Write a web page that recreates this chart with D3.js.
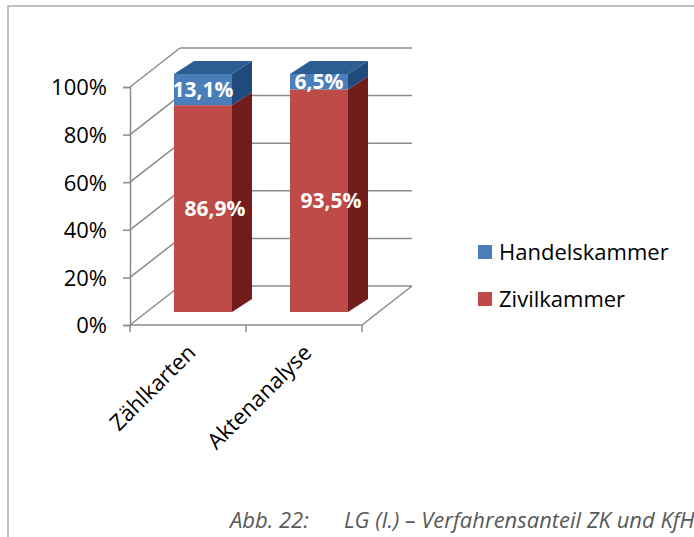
<!DOCTYPE html>
<html>
<head>
<meta charset="utf-8">
<script src="https://cdn.jsdelivr.net/npm/d3@7"></script>
<style>
  body { margin: 0; background: #fff; }
  text { font-family: "Open Sans", "Liberation Sans", sans-serif; }
</style>
</head>
<body>
<div id="chart"></div>
<script>
// data
const categories = ["Zählkarten", "Aktenanalyse"];
const series = ["Zivilkammer", "Handelskammer"];
const zivilkammer = [0.869, 0.935];
const handelskammer = [0.131, 0.065];
const labelsZivil = ["86,9%", "93,5%"];
const labelsHandel = ["13,1%", "6,5%"];
const yTicks = [0, 0.2, 0.4, 0.6, 0.8, 1];

const width = 694, height = 537;

// 3d look: depth of the walls and of the bars
const wallDx = 50, wallDy = -39;
const barOffDx = 15, barOffDy = -13;
const barDx = 20, barDy = -13;

const colors = {
  Zivilkammer: { front: "#BE4B48", side: "#731C1C", top: "#9A3431" },
  Handelskammer: { front: "#4A7EBB", side: "#1F4A7B", top: "#2C5D93" }
};
const gridColor = "#8C8C8C";

const svg = d3.select("#chart").append("svg")
  .attr("width", width)
  .attr("height", height);

svg.append("rect").attr("width", width).attr("height", height).attr("fill", "#fff");

// frame of the figure
svg.append("path")
  .attr("d", "M8," + height + " L8,6 L" + width + ",6")
  .attr("fill", "none")
  .attr("stroke", "#BFBFBF")
  .attr("stroke-width", 2);

const x = d3.scaleBand()
  .domain(categories)
  .range([130, 362])
  .paddingInner(0.5)
  .paddingOuter(0.25);

const xCell = d3.scaleBand().domain(categories).range([130, 362]);

const y = d3.scaleLinear().domain([0, 1]).range([325, 87]);

// walls and floor
const grid = svg.append("g").attr("class", "grid")
  .attr("fill", "none")
  .attr("stroke", gridColor)
  .attr("stroke-width", 1.5);

// side wall obliques
grid.selectAll(".side")
  .data(yTicks)
  .enter().append("line")
  .attr("x1", 130).attr("y1", d => y(d))
  .attr("x2", 130 + wallDx).attr("y2", d => y(d) + wallDy);

// back wall gridlines
grid.selectAll(".back")
  .data(yTicks)
  .enter().append("line")
  .attr("x1", 130 + wallDx).attr("y1", d => y(d) + wallDy)
  .attr("x2", 362 + wallDx).attr("y2", d => y(d) + wallDy);

// floor
grid.append("path")
  .attr("d", "M130," + y(0) + " L362," + y(0) + " L" + (362 + wallDx) + "," + (y(0) + wallDy));

// y axis
const yAxis = svg.append("g")
  .attr("transform", "translate(130,0)")
  .call(d3.axisLeft(y).tickValues(yTicks).tickSize(7).tickPadding(16)
    .tickFormat(d => Math.round(d * 100) + "%"));
yAxis.select(".domain").attr("stroke", gridColor).attr("stroke-width", 1.5);
yAxis.selectAll(".tick line").attr("stroke", gridColor).attr("stroke-width", 1.5);
yAxis.selectAll(".tick text")
  .attr("fill", "#000")
  .style("font-size", "22px")
  .style("font-family", "'Open Sans', sans-serif")
  .attr("dy", "0.36em");

// category ticks
const catTicks = xCell.domain().map(d => xCell(d)).concat([362]);
svg.selectAll(".cat-tick")
  .data(catTicks)
  .enter().append("line")
  .attr("x1", d => d).attr("x2", d => d)
  .attr("y1", y(0)).attr("y2", y(0) + 7)
  .attr("stroke", gridColor).attr("stroke-width", 1.5);

// category labels
svg.selectAll(".cat-label")
  .data(categories)
  .enter().append("text")
  .attr("transform", d => "translate(" + (xCell(d) + xCell.bandwidth() / 2 + 9) + "," + 354 + ") rotate(-45)")
  .attr("text-anchor", "end")
  .style("font-size", "22px")
  .attr("fill", "#000")
  .text(d => d);

// stacked bars
const stackData = categories.map((c, i) => ({
  cat: c,
  Zivilkammer: zivilkammer[i],
  Handelskammer: handelskammer[i]
}));
const stacked = d3.stack().keys(series)(stackData);

const bars = svg.append("g").attr("class", "bars");

categories.forEach((c, i) => {
  const x0 = x(c) + barOffDx;
  const x1 = x0 + x.bandwidth();
  stacked.forEach((s, si) => {
    const key = s.key;
    const yb = y(s[i][0]) + barOffDy;
    const yt = y(s[i][1]) + barOffDy;
    const g = bars.append("g");
    // side face
    g.append("path")
      .attr("d", "M" + x1 + "," + yb + " L" + (x1 + barDx) + "," + (yb + barDy) +
        " L" + (x1 + barDx) + "," + (yt + barDy) + " L" + x1 + "," + yt + "Z")
      .attr("fill", colors[key].side);
    // top face only for the top segment
    if (si === stacked.length - 1) {
      g.append("path")
        .attr("d", "M" + x0 + "," + yt + " L" + x1 + "," + yt +
          " L" + (x1 + barDx) + "," + (yt + barDy) + " L" + (x0 + barDx) + "," + (yt + barDy) + "Z")
        .attr("fill", colors[key].top);
    }
    // front face
    g.append("rect")
      .attr("x", x0).attr("y", yt)
      .attr("width", x.bandwidth()).attr("height", yb - yt)
      .attr("fill", colors[key].front);
  });
});

// value labels
const labelG = svg.append("g").attr("class", "labels");
stacked.forEach(s => {
  const labels = s.key === "Zivilkammer" ? labelsZivil : labelsHandel;
  const shift = s.key === "Zivilkammer" ? 12 : 0;
  labelG.selectAll(".lab-" + s.key)
    .data(s)
    .enter().append("text")
    .attr("x", (d, i) => x(categories[i]) + barOffDx + x.bandwidth() / 2 + shift)
    .attr("y", d => (y(d[0]) + y(d[1])) / 2 + barOffDy)
    .attr("dy", "0.36em")
    .attr("text-anchor", "middle")
    .attr("fill", "#fff")
    .style("font-weight", "bold")
    .style("font-size", "21px")
    .text((d, i) => labels[i]);
});

// legend
const legendItems = series.slice().reverse();
const legend = svg.append("g").attr("class", "legend");
legend.selectAll("rect")
  .data(legendItems)
  .enter().append("rect")
  .attr("x", 478)
  .attr("y", (d, i) => 245 + i * 47)
  .attr("width", 14).attr("height", 14)
  .attr("fill", d => colors[d].front);
legend.selectAll("text")
  .data(legendItems)
  .enter().append("text")
  .attr("x", 499)
  .attr("y", (d, i) => 260 + i * 47)
  .style("font-size", "22px")
  .attr("fill", "#000")
  .text(d => d);

// caption
const caption = svg.append("text")
  .attr("y", 528)
  .attr("fill", "#595959")
  .style("font-style", "italic")
  .style("font-size", "22px");
caption.append("tspan").attr("x", 230).text("Abb. 22:");
caption.append("tspan").attr("x", 344).text("LG (I.) – Verfahrensanteil ZK und KfH");
</script>
</body>
</html>
